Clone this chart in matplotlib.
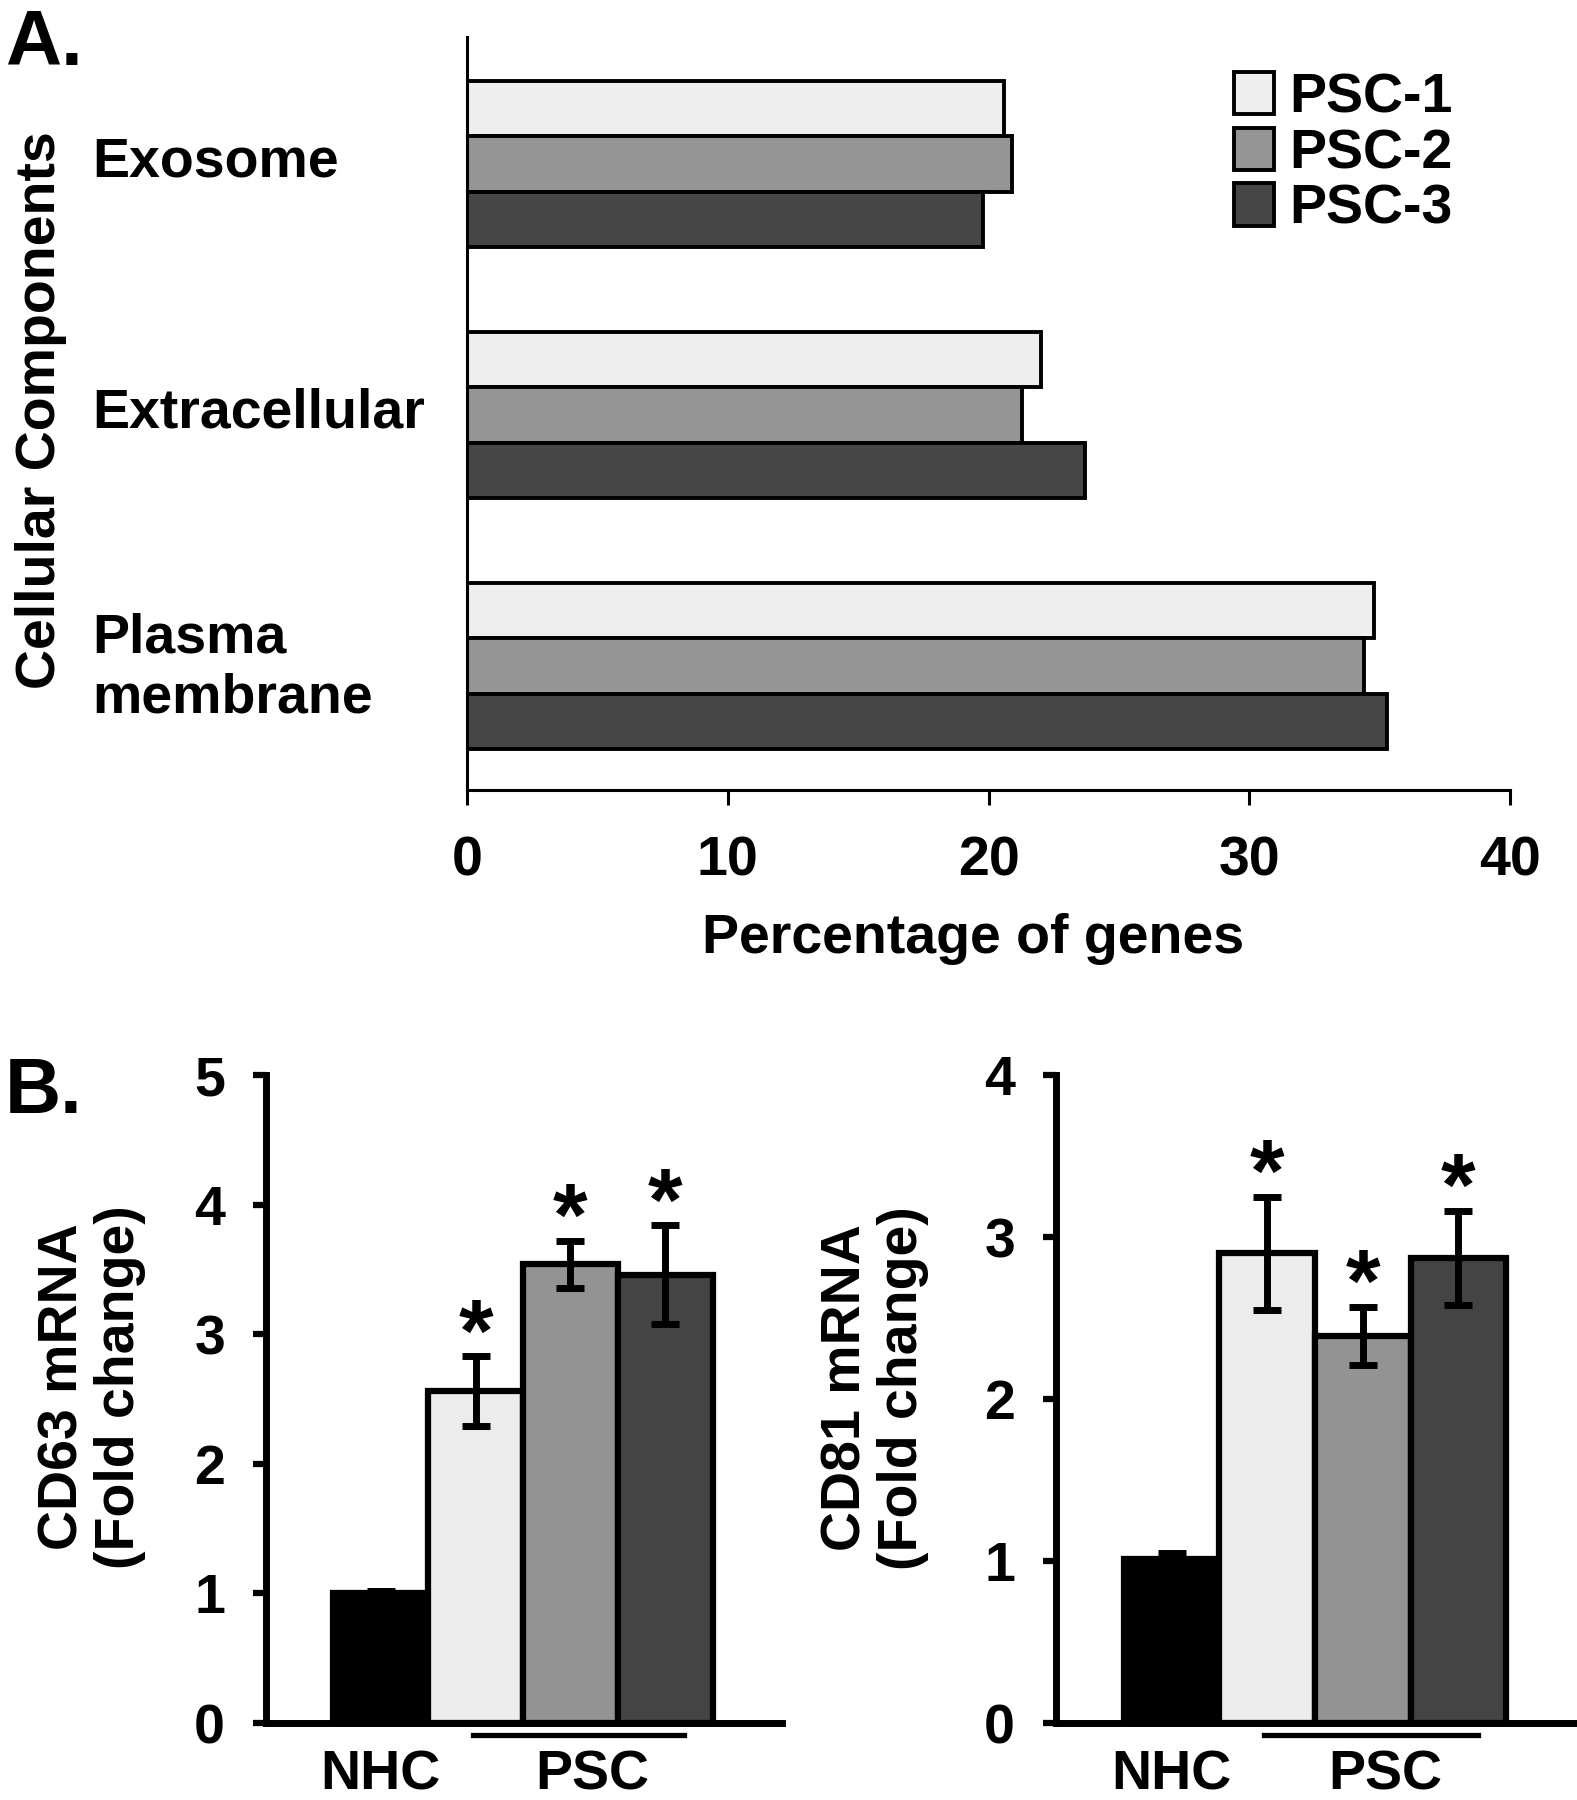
import matplotlib
matplotlib.use("Agg")
import matplotlib.pyplot as plt
import numpy as np

plt.rcParams['font.family'] = ['Liberation Sans', 'DejaVu Sans']
plt.rcParams['font.weight'] = 'bold'
plt.rcParams['axes.labelweight'] = 'bold'

# panel A data
components = ["Exosome", "Extracellular", "Plasma\nmembrane"]
series = ["PSC-1", "PSC-2", "PSC-3"]
psc1_pct = [20.6, 22.0, 34.8]
psc2_pct = [20.9, 21.3, 34.4]
psc3_pct = [19.8, 23.7, 35.3]
pct_ticks = [0, 10, 20, 30, 40]

# panel B data
groups = ["NHC", "PSC-1", "PSC-2", "PSC-3"]
cd63_mean = [1.0, 2.56, 3.54, 3.46]
cd63_err = [0.02, 0.27, 0.18, 0.38]
cd63_star = [False, True, True, True]
cd81_mean = [1.01, 2.90, 2.39, 2.87]
cd81_err = [0.04, 0.35, 0.18, 0.29]
cd81_star = [False, True, True, True]

shadesA = ["#eeeeee", "#959595", "#464646"]
shadesB = ["#000000", "#ececec", "#939393", "#444444"]

W, H = 1577, 1800
fig = plt.figure(figsize=(W / 100, H / 100), dpi=100)

# ---------- A ----------
axA = fig.add_axes([467 / W, 1 - 790 / H, (1510 - 467) / W, (790 - 37) / H])
bh = 0.221
ypos = np.arange(len(components))
for i, (vals, col, name) in enumerate(zip([psc1_pct, psc2_pct, psc3_pct], shadesA, series)):
    axA.barh(ypos + (i - 1) * bh, vals, height=bh, color=col, edgecolor='black',
             linewidth=2.8, label=name)
axA.set_xlim(0, 40)
axA.set_ylim(2.494, -0.505)
axA.set_xticks(pct_ticks)
axA.set_xticklabels([str(t) for t in pct_ticks], fontsize=40)
# labels sit a touch above the group centres
axA.set_yticks(ypos - 0.03)
axA.set_yticklabels(components, fontsize=40, ha='left')
axA.tick_params(axis='y', length=0, pad=270)
axA.tick_params(axis='x', direction='out', length=11, width=2.2, pad=22)
for s in ['top', 'right']:
    axA.spines[s].set_visible(False)
for s in ['left', 'bottom']:
    axA.spines[s].set_linewidth(2.2)
axA.set_xlabel("Percentage of genes", fontsize=40)
axA.xaxis.set_label_coords(0.485, -0.164)
fig.text(41 / W, 1 - 410 / H, "Cellular Components", rotation=90, fontsize=40,
         ha='center', va='center')
axA.legend(loc='upper left', bbox_to_anchor=(1234 / W, 1 - 72 / H),
           bbox_transform=fig.transFigure, frameon=False, fontsize=40,
           borderpad=0, borderaxespad=0, handlelength=0.72, handleheight=0.79,
           handletextpad=0.28, labelspacing=0.06)
fig.text(5 / W, 1 - 65 / H, "A.", fontsize=56, ha='left', va='baseline')
fig.text(5 / W, 1 - 1113 / H, "B.", fontsize=56, ha='left', va='baseline')


def panel_b(ax, means, errs, stars, ymax, ylabel, lab_x, lab_y):
    x = np.arange(len(groups))
    ax.bar(x, means, width=1.0, color=shadesB, edgecolor='black', linewidth=4.5)
    ax.errorbar(x, means, yerr=errs, fmt='none', ecolor='black', elinewidth=5,
                capsize=10, capthick=5)
    for xi, m, e, s in zip(x, means, errs, stars):
        if s:
            ax.annotate("*", (xi, m + e), xytext=(0, -3), textcoords='offset points',
                        ha='center', va='baseline', fontsize=64)
    ax.set_xlim(-1.21, 4.23)
    ax.set_ylim(0, ymax)
    ax.set_yticks(range(ymax + 1))
    ax.set_yticklabels([str(t) for t in range(ymax + 1)], fontsize=40)
    ax.set_xticks([0, 2.23])
    ax.set_xticklabels(["NHC", "PSC"], fontsize=40)
    ax.tick_params(axis='x', length=0, pad=19)
    ax.tick_params(axis='y', direction='out', length=9.5, width=4.5, pad=20)
    for s in ['top', 'right']:
        ax.spines[s].set_visible(False)
    for s in ['left', 'bottom']:
        ax.spines[s].set_linewidth(5)
    ax.plot([0.97, 3.2], [-0.018, -0.018], color='black', linewidth=3.8,
            transform=ax.get_xaxis_transform(), clip_on=False)
    fig.text(lab_x, lab_y, ylabel, rotation=90, fontsize=40, ha='center',
             va='center', linespacing=1.1, multialignment='center')


axL = fig.add_axes([266 / W, 1 - 1723 / H, (782 - 266) / W, (1723 - 1075) / H])
panel_b(axL, cd63_mean, cd63_err, cd63_star, 5, "CD63 mRNA\n(Fold change)",
        92 / W, 1 - 1387 / H)
axR = fig.add_axes([1056 / W, 1 - 1723 / H, (W - 1 - 1056) / W, (1723 - 1075) / H])
panel_b(axR, cd81_mean, cd81_err, cd81_star, 4, "CD81 mRNA\n(Fold change)",
        875 / W, 1 - 1388 / H)

fig.savefig("out.png", dpi=100)
